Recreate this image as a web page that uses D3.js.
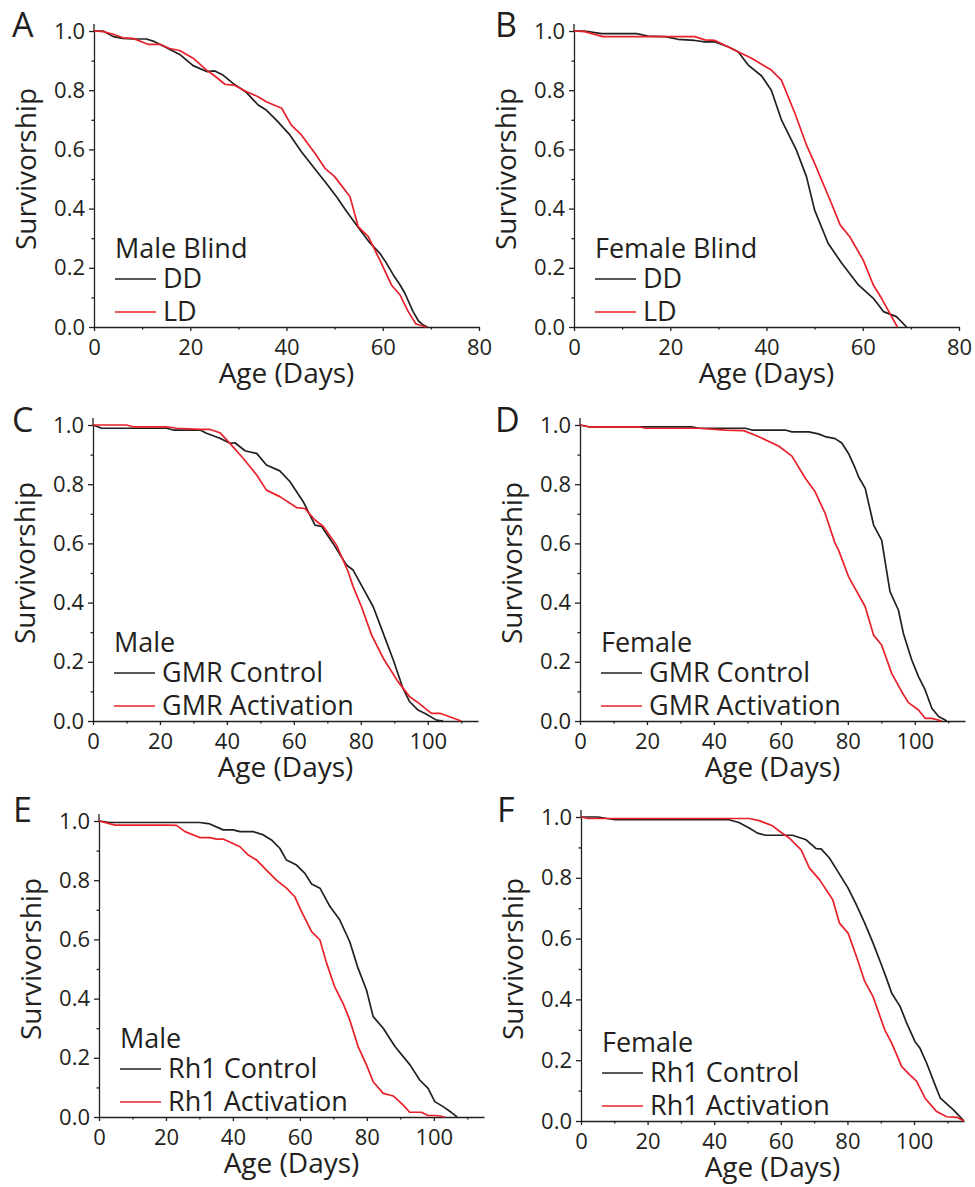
<html>
<head>
<meta charset="UTF-8"/>
<script src="https://d3js.org/d3.v7.min.js"></script>
<style>
  body { margin: 0; background: #fff; }
  text { font-family: "Open Sans", sans-serif; fill: #231f20; }
</style>
</head>
<body>
<script>
// tick labels
const yTicks = [0, 0.2, 0.4, 0.6, 0.8, 1.0];
const yMinor = [0.1, 0.3, 0.5, 0.7, 0.9];
const xTicks80 = [0, 20, 40, 60, 80];
const xMinor80 = [10, 30, 50, 70];
const xTicks115 = [0, 20, 40, 60, 80, 100];
const xMinor115 = [10, 30, 50, 70, 90, 110];

const panelLetters = ["A", "B", "C", "D", "E", "F"];
const legendTitles = ["Male Blind", "Female Blind", "Male", "Female", "Male", "Female"];
const seriesNames = [
  ["DD", "LD"], ["DD", "LD"],
  ["GMR Control", "GMR Activation"], ["GMR Control", "GMR Activation"],
  ["Rh1 Control", "Rh1 Activation"], ["Rh1 Control", "Rh1 Activation"]
];

// [age in days, survivorship]
const maleBlindDD = [[0,1],[1.9,1],[4,0.981],[6,0.975],[8.1,0.973],[10.9,0.973],[12.6,0.964],[15,0.944],[17.8,0.921],[20.6,0.883],[23.4,0.863],[25.1,0.865],[26.8,0.851],[28.9,0.823],[31.7,0.792],[34.1,0.75],[35.8,0.733],[37.9,0.699],[40.7,0.649],[43.1,0.592],[45.5,0.542],[48.3,0.485],[50.4,0.44],[52.5,0.39],[55.3,0.328],[57.3,0.285],[59.4,0.249],[60.8,0.215],[62.2,0.176],[63.6,0.142],[64.6,0.114],[66.3,0.052],[67.4,0.021],[68.4,0.007],[69.3,0]];
const maleBlindLD = [[0,1],[1.9,0.998],[4,0.989],[6,0.977],[8.1,0.975],[11.2,0.955],[13.7,0.955],[15.7,0.941],[17.8,0.934],[20.6,0.908],[23.4,0.868],[25.1,0.848],[27.2,0.82],[29.3,0.816],[31.7,0.795],[34.1,0.778],[35.8,0.761],[39,0.739],[41,0.682],[43.1,0.649],[45.9,0.587],[48,0.536],[50,0.508],[53.2,0.44],[54.9,0.339],[57,0.305],[59.4,0.226],[61.8,0.142],[63.6,0.108],[65.3,0.052],[66.9,0.01],[69.1,0]];
const femaleBlindDD = [[0,1],[2.2,1],[5.7,0.991],[9.2,0.991],[13,0.991],[15.4,0.983],[18.9,0.981],[21.6,0.972],[25.1,0.968],[27.2,0.963],[29.3,0.963],[32,0.947],[34.1,0.93],[36.2,0.885],[39,0.848],[41,0.8],[43.1,0.7],[46.2,0.598],[48.3,0.508],[50,0.395],[52.8,0.283],[55.6,0.216],[59.1,0.142],[62.2,0.097],[64.3,0.052],[67,0.035],[69.1,0]];
const femaleBlindLD = [[0,1],[2.2,0.998],[6,0.981],[10.5,0.981],[15.4,0.981],[25.1,0.981],[27.2,0.97],[29.3,0.968],[34.1,0.93],[36.9,0.908],[41,0.868],[43.1,0.834],[45.9,0.722],[48.3,0.615],[50,0.553],[53.2,0.429],[55.3,0.345],[57.3,0.305],[60.1,0.226],[62.2,0.142],[63.9,0.097],[67.2,0]];
const maleGmrControl = [[0,1],[2.6,0.989],[12,0.989],[22,0.989],[24,0.983],[32,0.983],[33.9,0.972],[37.9,0.955],[40.9,0.938],[42.4,0.94],[45.4,0.913],[48.9,0.904],[51.8,0.865],[55.8,0.845],[58.8,0.809],[62.8,0.741],[66.3,0.662],[68.3,0.657],[71.7,0.6],[75.7,0.527],[77.7,0.51],[80.7,0.448],[83.7,0.386],[86.7,0.296],[89.7,0.206],[92.6,0.11],[94.6,0.065],[97.1,0.037],[99.6,0.023],[102.6,0.003],[104.6,0]];
const maleGmrActivation = [[0,1],[10,1],[12,0.994],[22,0.994],[25,0.989],[32,0.985],[35,0.985],[37.9,0.974],[40.9,0.938],[44.9,0.887],[48.9,0.831],[51.8,0.78],[55.8,0.758],[60.8,0.721],[63.3,0.718],[66.3,0.679],[68.8,0.657],[72.7,0.595],[76.2,0.505],[77.7,0.454],[80.2,0.386],[83.2,0.291],[86.7,0.212],[91.1,0.133],[94.6,0.082],[97.1,0.062],[101.1,0.026],[103.6,0.026],[108.6,0.006],[110,0]];
const femaleGmrControl = [[0,1],[2.6,0.994],[21.5,0.994],[33.4,0.994],[35.4,0.989],[49.4,0.989],[51.3,0.983],[61.3,0.983],[63.3,0.977],[68.3,0.977],[71.2,0.97],[73.2,0.961],[76.2,0.954],[78.2,0.939],[80.2,0.904],[82.2,0.854],[83.2,0.825],[85.2,0.786],[87.7,0.662],[90.1,0.611],[92.6,0.437],[95.1,0.375],[96.6,0.296],[99.1,0.206],[101.1,0.15],[103.1,0.105],[105.1,0.043],[107.1,0.015],[109.6,0]];
const femaleGmrActivation = [[0,1],[2.6,0.994],[17.5,0.994],[19.5,0.989],[35.4,0.989],[43.4,0.983],[48.9,0.981],[53.3,0.961],[59.3,0.929],[63.3,0.895],[67.3,0.82],[70.2,0.775],[73.2,0.702],[76.2,0.6],[77.2,0.578],[80.2,0.488],[85.2,0.386],[87.7,0.29],[90.1,0.257],[93.1,0.161],[96.1,0.099],[98.1,0.062],[101.1,0.037],[103.1,0.009],[105.1,0.009],[108.1,0]];
const maleRh1Control = [[0,1],[3.3,0.995],[30.1,0.995],[33.1,0.99],[37.1,0.97],[40.1,0.97],[42.1,0.964],[46.1,0.964],[49.1,0.953],[51.5,0.936],[54,0.908],[56,0.868],[59,0.851],[61.5,0.823],[63.5,0.787],[66,0.773],[69,0.711],[71.9,0.666],[74.9,0.592],[77.4,0.502],[79.9,0.429],[81.9,0.339],[84.9,0.3],[88.4,0.238],[92.9,0.176],[95.8,0.125],[98.3,0.097],[100.3,0.052],[102.8,0.035],[105.3,0.015],[107,0]];
const maleRh1Activation = [[0,1],[4.8,0.986],[20.2,0.986],[23.2,0.985],[25.7,0.964],[30.1,0.944],[33.1,0.944],[35.1,0.939],[37.1,0.939],[42.1,0.913],[44.6,0.885],[47.1,0.868],[50,0.834],[53,0.8],[56,0.773],[58.5,0.744],[60.5,0.694],[63.5,0.626],[66,0.598],[68,0.519],[70.4,0.44],[72.9,0.384],[74.9,0.328],[77.4,0.238],[79.9,0.176],[81.9,0.119],[84.9,0.08],[87.9,0.071],[90.8,0.041],[92.8,0.016],[96.3,0.016],[98.3,0.005],[100.8,0.005],[103.3,0]];
const femaleRh1Control = [[0,1],[5.1,1],[10.2,0.991],[16.2,0.991],[44.4,0.991],[47.4,0.982],[50.5,0.964],[53,0.947],[55.5,0.94],[63.5,0.94],[67.6,0.925],[70.6,0.896],[72.1,0.895],[74.6,0.865],[77.1,0.821],[80.2,0.766],[82.7,0.711],[85.2,0.651],[87.7,0.585],[90.2,0.514],[91.7,0.47],[93.3,0.42],[95.8,0.377],[97.8,0.322],[100.3,0.261],[101.8,0.239],[103.8,0.19],[106.3,0.119],[107.9,0.075],[111.9,0.036],[115,0]];
const femaleRh1Activation = [[0,1],[2.1,0.995],[11.2,0.995],[50.5,0.995],[53.5,0.988],[57.5,0.971],[59.6,0.953],[62.5,0.931],[66.1,0.892],[68.6,0.832],[71.6,0.794],[75.6,0.728],[77.6,0.651],[80.2,0.618],[82.7,0.541],[85.2,0.459],[87.7,0.409],[91.2,0.3],[93.3,0.256],[96.3,0.179],[98.8,0.151],[100.8,0.13],[103.3,0.075],[106.8,0.031],[109.8,0.014],[112.9,0.012],[115,0]];

const panelSeries = [
  [maleBlindDD, maleBlindLD],
  [femaleBlindDD, femaleBlindLD],
  [maleGmrControl, maleGmrActivation],
  [femaleGmrControl, femaleGmrActivation],
  [maleRh1Control, maleRh1Activation],
  [femaleRh1Control, femaleRh1Activation]
];
const xMaxes = [80, 80, 115, 115, 115, 115];

// layout (pixels)
const boxes = [
  {left: 94,  top: 31,  w: 385, h: 296, lx: 12,  ly: 37},
  {left: 574, top: 31,  w: 385, h: 296, lx: 495, ly: 37},
  {left: 93,  top: 425, w: 385, h: 296, lx: 12,  ly: 432},
  {left: 580, top: 425, w: 385, h: 296, lx: 495, ly: 432},
  {left: 99,  top: 821, w: 385, h: 296, lx: 13,  ly: 822},
  {left: 581, top: 817, w: 383, h: 304, lx: 497, ly: 822}
];
const colors = ["#231f20", "#e8202a"];
const ink = "#231f20";

const svg = d3.select("body").append("svg")
  .attr("width", 975)
  .attr("height", 1187);

panelLetters.forEach((letter, i) => {
  const b = boxes[i];
  const xMax = xMaxes[i];
  const x = d3.scaleLinear().domain([0, xMax]).range([0, b.w]);
  const y = d3.scaleLinear().domain([0, 1]).range([b.h, 0]);
  const major = xMax === 80 ? xTicks80 : xTicks115;
  const minor = xMax === 80 ? xMinor80 : xMinor115;

  svg.append("text")
    .attr("x", b.lx).attr("y", b.ly)
    .attr("font-size", 34)
    .text(letter);

  const g = svg.append("g").attr("transform", "translate(" + b.left + "," + b.top + ")");

  // axes
  g.append("g").attr("transform", "translate(0," + b.h + ")")
    .call(d3.axisBottom(x).tickValues(major).tickSize(4).tickSizeOuter(0).tickPadding(8).tickFormat(d3.format("d")));
  g.append("g").attr("transform", "translate(0," + b.h + ")")
    .call(d3.axisBottom(x).tickValues(minor).tickSize(2.5).tickFormat(""))
    .select(".domain").remove();
  g.append("g")
    .call(d3.axisLeft(y).tickValues(yTicks).tickSize(5).tickSizeOuter(0).tickPadding(4).tickFormat(d3.format(".1f")));
  g.append("g")
    .call(d3.axisLeft(y).tickValues(yMinor).tickSize(2.5).tickFormat(""))
    .select(".domain").remove();
  g.append("line")
    .attr("x1", 0).attr("x2", 0).attr("y1", -7).attr("y2", 0)
    .attr("stroke", ink).attr("stroke-width", 1.3);

  g.selectAll(".domain, .tick line").attr("stroke", ink).attr("stroke-width", 1.3);
  g.selectAll(".tick text")
    .attr("font-family", "Open Sans, sans-serif")
    .attr("font-size", 22)
    .attr("fill", ink);

  // axis titles
  g.append("text")
    .attr("x", b.w / 2).attr("y", b.h + 56)
    .attr("text-anchor", "middle")
    .attr("font-size", 28)
    .text("Age (Days)");
  g.append("text")
    .attr("transform", "translate(-58," + (b.h / 2 - 10) + ") rotate(-90)")
    .attr("text-anchor", "middle")
    .attr("font-size", 28)
    .text("Survivorship");

  // curves
  const line = d3.line().x(d => x(d[0])).y(d => y(d[1]));
  panelSeries[i].forEach((s, k) => {
    g.append("path")
      .datum(s)
      .attr("fill", "none")
      .attr("stroke", colors[k])
      .attr("stroke-width", 1.7)
      .attr("stroke-linejoin", "round")
      .attr("d", line);
  });

  // legend
  const lg = g.append("g").attr("transform", "translate(21," + b.h + ")");
  lg.append("text").attr("x", 0).attr("y", -69).attr("font-size", 27).text(legendTitles[i]);
  seriesNames[i].forEach((name, k) => {
    const base = k === 0 ? -39 : -6;
    lg.append("line")
      .attr("x1", 0).attr("x2", 41)
      .attr("y1", base - 9).attr("y2", base - 9)
      .attr("stroke", colors[k]).attr("stroke-width", 1.7);
    lg.append("text").attr("x", 48).attr("y", base).attr("font-size", 27).text(name);
  });
});
</script>
</body>
</html>
